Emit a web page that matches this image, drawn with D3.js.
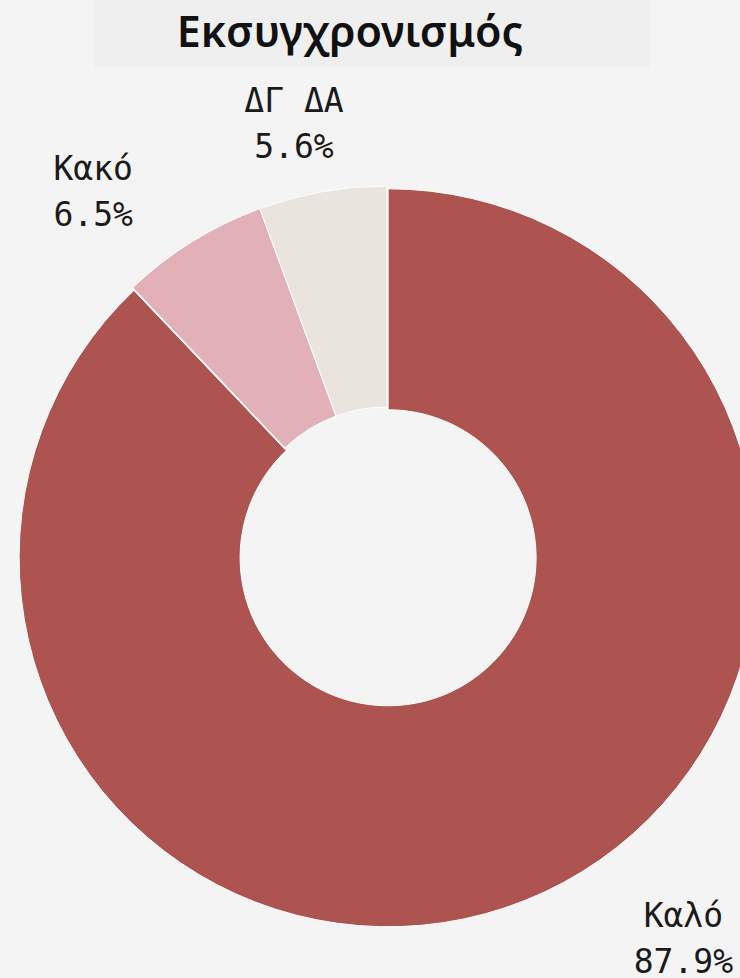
<!DOCTYPE html>
<html>
<head>
<meta charset="utf-8">
<script src="https://cdn.jsdelivr.net/npm/d3@7"></script>
<style>
  html, body { margin: 0; padding: 0; background: #f4f4f4; }
  svg { display: block; }
</style>
</head>
<body>
<script>
// Survey answers about modernisation, as shares of respondents
const categories = ["Καλό", "Κακό", "ΔΓ ΔΑ"];
const shares = [87.9, 6.5, 5.6];
const sliceColors = ["#ad5450", "#e2b0b7", "#e9e4dd"];
const pulled = [true, false, false];
const titleText = "Εκσυγχρονισμός";

const W = 740, H = 978;
const cx = 387, cy = 555;
const outerR = 369, innerR = 148;
const pullDist = 3;
const labelR = 443;
// fine offsets for each outside label, relative to its mid-angle point
const labelNudge = [[132, -16], [-60, 24], [-15.5, 16]];

const svg = d3.select("body").append("svg")
  .attr("width", W).attr("height", H);

svg.append("rect").attr("width", W).attr("height", H).attr("fill", "#f4f4f4");

// title band
svg.append("rect")
  .attr("x", 94).attr("y", 0).attr("width", 556).attr("height", 67)
  .attr("fill", "#efefef");
svg.append("text")
  .attr("x", 350).attr("y", 47)
  .attr("text-anchor", "middle")
  .attr("font-family", "'Noto Sans', sans-serif")
  .attr("font-weight", 600)
  .attr("font-size", 43)
  .attr("fill", "#111")
  .text(titleText);

const data = categories.map((c, i) => ({ cat: c, value: shares[i], color: sliceColors[i], pull: pulled[i], nudge: labelNudge[i] }));

const pie = d3.pie().sort(null).value(d => d.value).startAngle(0).endAngle(2 * Math.PI);
const arcs = pie(data);
const arc = d3.arc().innerRadius(innerR).outerRadius(outerR);

const g = svg.append("g").attr("transform", `translate(${cx},${cy})`);

g.selectAll("path.slice")
  .data(arcs)
  .join("path")
  .attr("class", "slice")
  .attr("d", arc)
  .attr("fill", d => d.data.color)
  .attr("stroke", "#ffffff")
  .attr("stroke-width", 1)
  .attr("transform", d => {
    if (!d.data.pull) return null;
    const a = (d.startAngle + d.endAngle) / 2;
    return `translate(${Math.sin(a) * pullDist},${-Math.cos(a) * pullDist})`;
  });

const fmt = d3.format(".1f");
const labels = g.selectAll("text.lbl")
  .data(arcs)
  .join("text")
  .attr("class", "lbl")
  .attr("text-anchor", "middle")
  .attr("font-family", "'DejaVu Sans Mono', monospace")
  .attr("font-size", 33)
  .attr("fill", "#1a1a1a")
  .attr("transform", d => {
    const a = (d.startAngle + d.endAngle) / 2;
    const x = Math.sin(a) * labelR + d.data.nudge[0];
    const y = -Math.cos(a) * labelR + d.data.nudge[1];
    return `translate(${x},${y})`;
  });
labels.append("tspan").attr("x", 0).attr("y", -23).text(d => d.data.cat);
labels.append("tspan").attr("x", 0).attr("y", 23).text(d => fmt(d.data.value) + "%");
</script>
</body>
</html>
